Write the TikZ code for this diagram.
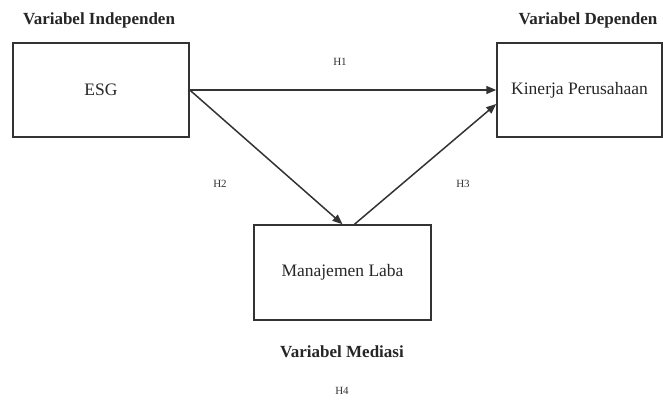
\documentclass[tikz,border=0pt]{standalone}
\usepackage{fontspec}
\setmainfont{Liberation Serif}
\usetikzlibrary{arrows.meta}
\begin{document}
\begin{tikzpicture}[x=1pt,y=-1pt,
  box/.style={draw=black!80, line width=1.5pt, inner sep=0pt, font=\fontsize{17.5}{20}\selectfont, text=black!85},
  varlabel/.style={font=\fontsize{17}{20}\selectfont\bfseries, text=black!85, inner sep=0pt},
  hlabel/.style={font=\fontsize{11}{13}\selectfont, text=black!80, inner sep=0pt},
  conn/.style={draw=black!80, line width=1.5pt, -{Triangle[length=10pt,width=8pt]}}]
\useasboundingbox (0,0) rectangle (663,401);
\node[box, minimum width=176pt, minimum height=94pt] (esg) at (101,90) {ESG};
\node[box, minimum width=165pt, minimum height=94pt] (kin) at (579.5,90) {Kinerja Perusahaan};
\node[box, minimum width=177pt, minimum height=95pt] (med) at (342.5,272.5) {Manajemen Laba};
\node[varlabel] (lind) at (99,20) {Variabel Independen};
\node[varlabel] (ldep) at (588,20) {Variabel Dependen};
\node[varlabel] (lmed) at (342,352) {Variabel Mediasi};
\node[hlabel] (h1) at (340,62) {H1};
\node[hlabel] (h2) at (220,184) {H2};
\node[hlabel] (h3) at (463,184) {H3};
\node[hlabel] (h4) at (342,391) {H4};
\draw[conn] (esg.east) -- (kin.west);
\draw[conn] (esg.east) -- (med.north);
\draw[conn] ([xshift=12pt]med.north) -- ([yshift=-14pt]kin.west);
\end{tikzpicture}
\end{document}
